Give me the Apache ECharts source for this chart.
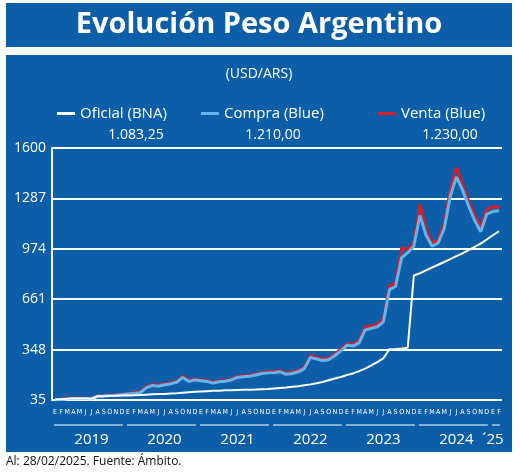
<!DOCTYPE html>
<html><head><meta charset="utf-8">
<script src="https://cdn.jsdelivr.net/npm/echarts@6/dist/echarts.min.js"></script>
<style>html,body{margin:0;padding:0;background:#fff}#c{width:520px;height:472px}</style>
</head><body><div id="c"></div>
<script>
const years = ['2019','2020','2021','2022','2023','2024','´25'];
const monthLetters = ['E','F','M','A','M','J','J','A','S','O','N','D'];
const yTicks = [35,348,661,974,1287,1600];
const oficial = [38,39,42,44,45,44,43,58,58,60,61,63,
 63,64,66,68,70,72,73,75,77,80,83,86,
 88,90,92,93,95,96,97,98,99,100,102,104,
 107,110,113,117,121,126,132,139,147,158,168,178,
 190,200,214,230,250,270,295,350,352,355,360,808,
 822,840,858,875,892,910,928,946,966,986,1006,1032,
 1058,1083];
const compra = [37,39,42,45,45,44,43,58,60,63,64,68,
 72,76,80,110,125,120,130,135,145,175,150,160,
 155,150,140,148,152,160,175,180,183,190,200,203,
 205,210,195,200,210,230,300,290,280,285,310,340,
 375,370,390,470,480,490,520,720,740,920,950,990,
 1180,1060,990,1010,1100,1300,1420,1340,1240,1150,1080,1190,
 1205,1210];
const venta = [39,41,44,47,47,46,45,61,63,66,67,71,
 76,80,84,116,131,126,136,141,151,183,157,166,
 160,155,145,153,157,166,181,186,189,196,206,209,
 212,217,202,207,218,238,310,300,290,294,320,350,
 385,380,402,490,495,505,540,745,760,980,970,1010,
 1250,1090,1010,1030,1130,1340,1480,1370,1270,1180,1110,1220,
 1235,1230];
const legendValues = ['1.083,25','1.210,00','1.230,00'];

const base = yTicks[0];
const cats = [];
for (let y = 0; y < years.length; y++) for (let m = 0; m < 12; m++) if (cats.length < oficial.length) cats.push(y*12+m);
const shift = a => a.map(v => v - base);

const chart = echarts.init(document.getElementById('c'));
const BLUE = '#0c5ea8';
const font = '"Open Sans", "Noto Sans", sans-serif';
const legStyle = {itemWidth:18,itemHeight:3,icon:'rect',top:101,textStyle:{color:'#fff',fontSize:15,fontFamily:font}};
chart.setOption({
  animation:false,
  backgroundColor:'#fff',
  textStyle:{fontFamily:font},
  graphic:[
    {type:'rect',shape:{x:6,y:3,width:506,height:44},style:{fill:BLUE},z:-10},
    {type:'rect',shape:{x:6,y:55,width:506,height:397},style:{fill:BLUE},z:-10},
    {type:'text',x:259,y:25,style:{text:'Evolución Peso Argentino',fill:'#fff',font:'bold 29px '+font,textAlign:'center',textVerticalAlign:'middle'}},
    {type:'text',x:259,y:74,style:{text:'(USD/ARS)',fill:'#fff',font:'14px '+font,textAlign:'center',textVerticalAlign:'middle'}},
    {type:'text',x:136,y:135,style:{text:legendValues[0],fill:'#fff',font:'14px '+font,textAlign:'center',textVerticalAlign:'middle'}},
    {type:'text',x:273,y:135,style:{text:legendValues[1],fill:'#fff',font:'14px '+font,textAlign:'center',textVerticalAlign:'middle'}},
    {type:'text',x:450,y:135,style:{text:legendValues[2],fill:'#fff',font:'14px '+font,textAlign:'center',textVerticalAlign:'middle'}},
    {type:'text',x:6,y:462,style:{text:'Al: 28/02/2025. Fuente: Ámbito.',fill:'#111',font:'12px '+font,textVerticalAlign:'middle'}}
  ],
  legend:[
    Object.assign({left:52,data:['Oficial (BNA)']},legStyle),
    Object.assign({left:196,data:['Compra (Blue)']},legStyle),
    Object.assign({left:373,data:['Venta (Blue)']},legStyle)
  ],
  grid:{left:52,right:18,top:148,bottom:72},
  xAxis:[{type:'category',data:cats,boundaryGap:true,
    axisLine:{show:false},axisTick:{show:false},
    axisLabel:{interval:0,hideOverlap:false,color:'#fff',fontSize:7,margin:9,fontFamily:'"Liberation Sans Narrow", "DejaVu Sans Condensed", sans-serif',
      formatter:v=>monthLetters[v%12]}},
   {type:'category',data:cats,boundaryGap:true,position:'bottom',offset:24,
    axisLine:{show:false},axisTick:{show:false},
    axisLabel:{interval:i=>(i%12===6 && i<72)||i===72,color:'#fff',fontSize:15,fontFamily:font,
      formatter:v=>years[Math.floor(v/12)]}}],
  yAxis:{type:'value',min:0,max:yTicks[yTicks.length-1]-base,interval:yTicks[1]-yTicks[0],
    axisLine:{show:true,lineStyle:{color:'#fff',width:2}},axisTick:{show:false},
    splitLine:{lineStyle:{color:'#fff',width:2}},
    axisLabel:{color:'#fff',fontSize:14,margin:6,formatter:v=>String(v+base)}},
  series:[
    {name:'Venta (Blue)',type:'line',data:shift(venta),symbol:'none',color:'#d81e2c',lineStyle:{width:3,color:'#d81e2c'},z:2},
    {name:'Compra (Blue)',type:'line',data:shift(compra),symbol:'none',color:'#62b6ea',lineStyle:{width:3,color:'#62b6ea'},z:3},
    {name:'Oficial (BNA)',type:'line',data:shift(oficial),symbol:'none',color:'#fff',lineStyle:{width:2,color:'#fff'},z:4}
  ]
});
for (let y = 0; y < years.length; y++) {
  const s = y*12, e = Math.min(y*12+11, cats.length-1);
  const x1 = chart.convertToPixel({xAxisIndex:0}, s) - 1;
  const x2 = chart.convertToPixel({xAxisIndex:0}, e) + 1;
  chart.getZr().add(new echarts.graphic.Line({shape:{x1:x1,y1:425,x2:x2,y2:425},style:{stroke:'#fff',lineWidth:1}}));
}
</script></body></html>
